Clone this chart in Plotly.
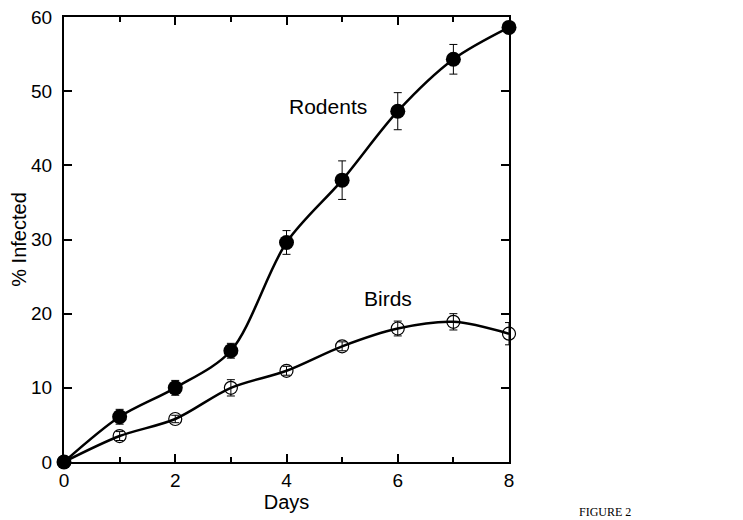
import plotly.graph_objects as go

days = [0, 1, 2, 3, 4, 5, 6, 7, 8]
rodents = [0, 6.1, 10.0, 15.0, 29.6, 38.0, 47.3, 54.3, 58.6]
rodents_err = [0, 1.0, 1.0, 1.0, 1.6, 2.6, 2.5, 2.0, 0.8]
birds = [0, 3.5, 5.8, 10.0, 12.3, 15.6, 18.0, 18.9, 17.3]
birds_err = [0, 0.6, 0.5, 1.1, 0.6, 0.6, 1.0, 1.1, 1.5]

# page body has an 8px margin; these margins put the plot area at the reference pixels
L, T, R, B = 56, 9, 242, 66
W, H = 743, 520
pw, ph = W - L - R, H - T - B

fig = go.Figure()

fig.add_trace(go.Scatter(
    x=days, y=birds, mode="lines+markers",
    line=dict(color="black", width=2.5, shape="spline", smoothing=0.9),
    marker=dict(symbol="circle-open", size=13, color="black", line=dict(width=1.2, color="black")),
    error_y=dict(type="data", array=birds_err, visible=True, color="black", thickness=1, width=4),
    cliponaxis=False, showlegend=False,
))
fig.add_trace(go.Scatter(
    x=days, y=rodents, mode="lines+markers",
    line=dict(color="black", width=2.5, shape="spline", smoothing=0.9),
    marker=dict(symbol="circle", size=15, color="black"),
    error_y=dict(type="data", array=rodents_err, visible=True, color="black", thickness=1, width=4),
    cliponaxis=False, showlegend=False,
))

fam = "Liberation Sans, Arial, sans-serif"
tickfont = dict(family=fam, size=19, color="black")
titlefont = dict(family=fam, size=20, color="black")
annfont = dict(family=fam, size=21, color="black")

fig.update_layout(
    width=W, height=H,
    margin=dict(l=L, r=R, t=T, b=B),
    paper_bgcolor="white", plot_bgcolor="white",
    xaxis=dict(
        range=[0, 8], tickvals=[0, 2, 4, 6, 8], ticks="inside", ticklen=8, tickwidth=1.5,
        tickcolor="black", showline=True, linecolor="black", linewidth=2, mirror="ticks",
        showgrid=False, zeroline=False, tickfont=tickfont, automargin=False,
        ticklabeloverflow="allow",
        minor=dict(tickvals=[1, 3, 5, 7], ticks="inside", ticklen=5, tickwidth=1.5, tickcolor="black", showgrid=False),
        title=dict(text="Days", font=titlefont, standoff=0),
    ),
    yaxis=dict(
        range=[0, 60], tickvals=[0, 10, 20, 30, 40, 50, 60], ticks="inside", ticklen=8, tickwidth=1.5,
        tickcolor="black", showline=True, linecolor="black", linewidth=2, mirror="ticks",
        showgrid=False, zeroline=False, tickfont=tickfont, automargin=False,
        ticklabelstandoff=6, ticklabeloverflow="allow",
        title=dict(text="% Infected", font=titlefont, standoff=3),
    ),
    annotations=[
        dict(x=4.75, y=47.9, xref="x", yref="y", text="Rodents", showarrow=False, font=annfont),
        dict(x=5.83, y=22.1, xref="x", yref="y", text="Birds", showarrow=False, font=annfont),
        dict(x=(605 - 64) / pw, y=-(503 - 462) / ph, xref="paper", yref="paper",
             xanchor="center", yanchor="top", text="FIGURE 2", showarrow=False,
             font=dict(family="Liberation Serif, serif", size=12, color="black")),
    ],
)

fig.write_html("out.html")
